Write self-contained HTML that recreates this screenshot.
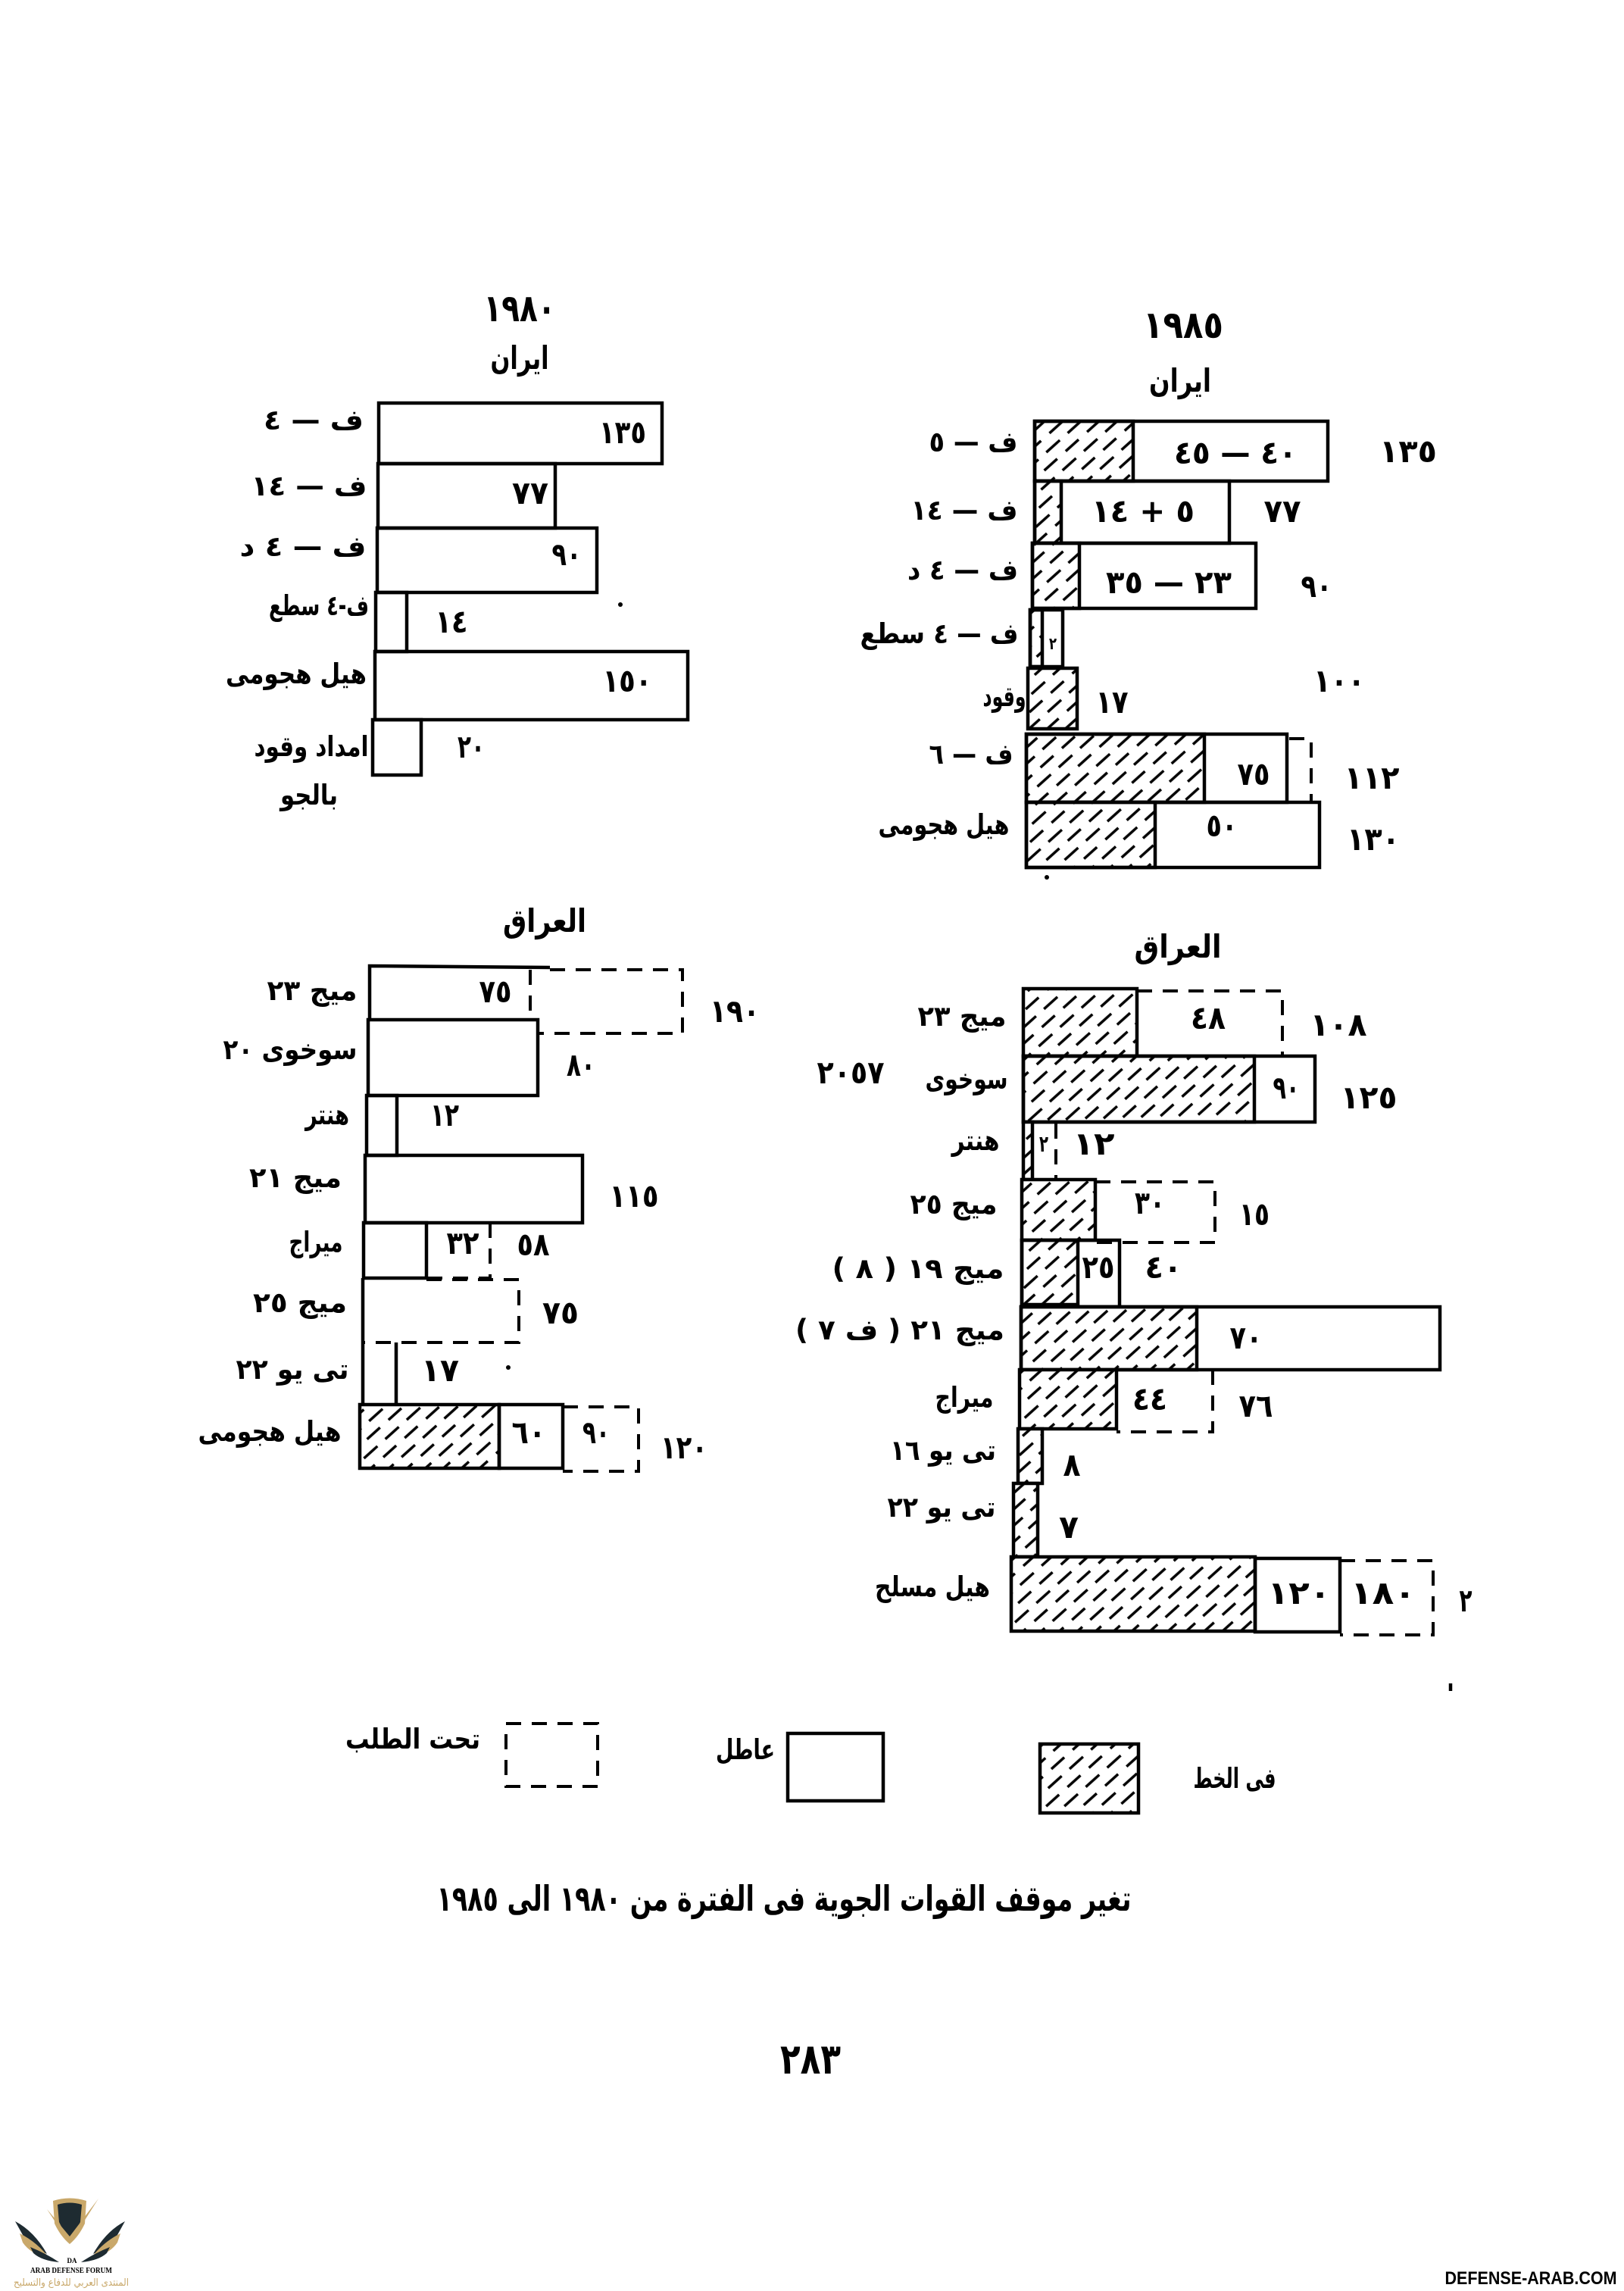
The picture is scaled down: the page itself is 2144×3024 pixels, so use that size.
<!DOCTYPE html>
<html><head><meta charset="utf-8"><style>
html,body{margin:0;padding:0;background:#fff}
svg{display:block}
text{font-family:"DejaVu Sans",sans-serif;font-weight:bold;fill:#000;text-anchor:middle;direction:rtl}
text.n{font-size:42px}
.s{fill:none;stroke:#000;stroke-width:4.5;stroke-linejoin:miter}
.d{fill:none;stroke:#000;stroke-width:4;stroke-dasharray:20 14}
.h{fill:url(#hp);stroke:#000;stroke-width:4.5}
.w{fill:#fff;stroke:#000;stroke-width:4.5}
</style></head><body>
<svg width="2144" height="3024" viewBox="0 0 2144 3024" xmlns="http://www.w3.org/2000/svg">
<defs>
<pattern id="hp" width="38" height="32" patternUnits="userSpaceOnUse" patternTransform="rotate(-42)">
<rect width="38" height="32" fill="#fff"/>
<line x1="1" y1="8" x2="24" y2="8" stroke="#000" stroke-width="3.4"/>
<line x1="19" y1="24" x2="38" y2="24" stroke="#000" stroke-width="3.4"/>
<line x1="0" y1="24" x2="5" y2="24" stroke="#000" stroke-width="3.4"/>
</pattern>
</defs>
<rect width="2144" height="3024" fill="#fff"/>

<!-- ===== IRAN 1980 ===== -->
<text x="686" y="424" font-size="50" textLength="95" lengthAdjust="spacingAndGlyphs">١٩٨٠</text>
<text x="686" y="487" font-size="42" textLength="77" lengthAdjust="spacingAndGlyphs">ايران</text>
<rect class="s" x="500" y="532" width="374" height="80"/>
<rect class="s" x="499" y="612" width="234" height="85"/>
<rect class="s" x="498" y="697" width="290" height="85"/>
<rect class="s" x="496" y="782" width="41" height="78"/>
<rect class="s" x="495" y="860" width="413" height="90"/>
<rect class="s" x="492" y="950" width="64" height="73"/>
<g font-size="37">
<text x="414" y="567" textLength="132" lengthAdjust="spacingAndGlyphs">ف — ٤</text>
<text class="n" x="822" y="585" textLength="62" lengthAdjust="spacingAndGlyphs">١٣٥</text>
<text x="408" y="654" textLength="153" lengthAdjust="spacingAndGlyphs">ف — ١٤</text>
<text class="n" x="700" y="665" textLength="48" lengthAdjust="spacingAndGlyphs">٧٧</text>
<text x="400" y="734" textLength="167" lengthAdjust="spacingAndGlyphs">ف — ٤ د</text>
<text class="n" x="748" y="746" textLength="39" lengthAdjust="spacingAndGlyphs">٩٠</text>
<text x="421" y="812" textLength="132" lengthAdjust="spacingAndGlyphs">ف-٤ سطع</text>
<text class="n" x="596" y="835" textLength="43" lengthAdjust="spacingAndGlyphs">١٤</text>
<text x="391" y="902" textLength="186" lengthAdjust="spacingAndGlyphs">هيل هجومى</text>
<text class="n" x="828" y="913" textLength="65" lengthAdjust="spacingAndGlyphs">١٥٠</text>
<text x="411" y="998" textLength="151" lengthAdjust="spacingAndGlyphs">امداد وقود</text>
<text class="n" x="622" y="1000" textLength="36" lengthAdjust="spacingAndGlyphs">٢٠</text>
<text x="408" y="1062" textLength="76" lengthAdjust="spacingAndGlyphs">بالجو</text>
</g>
<circle cx="819" cy="798" r="3"/>

<!-- ===== IRAN 1985 ===== -->
<text x="1562" y="446" font-size="50" textLength="106" lengthAdjust="spacingAndGlyphs">١٩٨٥</text>
<text x="1558" y="517" font-size="42" textLength="82" lengthAdjust="spacingAndGlyphs">ايران</text>
<rect class="h" x="1366" y="556" width="130" height="79"/>
<rect class="s" x="1366" y="556" width="387" height="79"/>
<rect class="h" x="1366" y="635" width="35" height="82"/>
<rect class="s" x="1366" y="635" width="257" height="82"/>
<rect class="h" x="1363" y="717" width="62" height="86"/>
<rect class="s" x="1363" y="717" width="295" height="86"/>
<rect class="h" x="1360" y="805" width="16" height="75"/>
<rect class="s" x="1360" y="805" width="43" height="75"/>
<rect class="h" x="1357" y="882" width="65" height="80"/>
<rect class="h" x="1355" y="969" width="235" height="90"/>
<rect class="s" x="1355" y="969" width="344" height="90"/>
<path class="d" d="M1702,975 H1731 V1059"/>
<rect class="h" x="1355" y="1059" width="170" height="86"/>
<rect class="s" x="1355" y="1059" width="387" height="86"/>
<g font-size="37">
<text x="1285" y="596" textLength="117" lengthAdjust="spacingAndGlyphs">ف — ٥</text>
<text class="n" x="1631" y="612" textLength="162" lengthAdjust="spacingAndGlyphs">٤٠ — ٤٥</text>
<text class="n" x="1859" y="610" textLength="76" lengthAdjust="spacingAndGlyphs">١٣٥</text>
<text x="1273" y="686" textLength="141" lengthAdjust="spacingAndGlyphs">ف — ١٤</text>
<text class="n" x="1509" y="689" textLength="136" lengthAdjust="spacingAndGlyphs">٥ + ١٤</text>
<text class="n" x="1693" y="689" textLength="49" lengthAdjust="spacingAndGlyphs">٧٧</text>
<text x="1271" y="765" textLength="146" lengthAdjust="spacingAndGlyphs">ف — ٤ د</text>
<text class="n" x="1543" y="783" textLength="166" lengthAdjust="spacingAndGlyphs">٢٣ — ٣٥</text>
<text class="n" x="1738" y="788" textLength="41" lengthAdjust="spacingAndGlyphs">٩٠</text>
<text x="1240" y="849" textLength="209" lengthAdjust="spacingAndGlyphs">ف — ٤ سطع</text>
<text x="1390" y="857" font-size="22" textLength="10" lengthAdjust="spacingAndGlyphs">٢</text>
<text x="1326" y="932" textLength="57" lengthAdjust="spacingAndGlyphs">وقود</text>
<text class="n" x="1468" y="941" textLength="43" lengthAdjust="spacingAndGlyphs">١٧</text>
<text class="n" x="1768" y="913" textLength="68" lengthAdjust="spacingAndGlyphs">١٠٠</text>
<text x="1282" y="1008" textLength="111" lengthAdjust="spacingAndGlyphs">ف — ٦</text>
<text class="n" x="1655" y="1036" textLength="43" lengthAdjust="spacingAndGlyphs">٧٥</text>
<text class="n" x="1811" y="1041" textLength="73" lengthAdjust="spacingAndGlyphs">١١٢</text>
<text x="1246" y="1101" textLength="173" lengthAdjust="spacingAndGlyphs">هيل هجومى</text>
<text class="n" x="1613" y="1104" textLength="41" lengthAdjust="spacingAndGlyphs">٥٠</text>
<text class="n" x="1813" y="1122" textLength="70" lengthAdjust="spacingAndGlyphs">١٣٠</text>
</g>
<circle cx="1382" cy="1158" r="3"/>

<!-- ===== IRAQ 1980 ===== -->
<text x="719" y="1230" font-size="42" textLength="110" lengthAdjust="spacingAndGlyphs">العراق</text>
<path class="s" d="M726,1277 L488,1275 L488,1346"/>
<path class="d" d="M700,1280 V1346"/>
<path class="d" d="M726,1280 H901 V1364 H712"/>
<rect class="s" x="486" y="1346" width="224" height="100"/>
<rect class="s" x="484" y="1446" width="40" height="79"/>
<rect class="s" x="482" y="1525" width="287" height="89"/>
<rect class="s" x="480" y="1614" width="83" height="73"/>
<path class="d" d="M647,1614 V1687 H563"/>
<path class="d" d="M563,1689 H685 V1772 H477"/>
<path class="s" d="M479,1687 V1854"/>
<path class="s" d="M523,1772 V1854"/>
<rect class="h" x="475" y="1854" width="184" height="84"/>
<rect class="s" x="659" y="1854" width="84" height="84"/>
<path class="d" d="M743,1857 H843 V1942 H743"/>
<g font-size="37">
<text x="412" y="1320" textLength="119" lengthAdjust="spacingAndGlyphs">ميج ٢٣</text>
<text class="n" x="654" y="1323" textLength="43" lengthAdjust="spacingAndGlyphs">٧٥</text>
<text class="n" x="970" y="1349" textLength="66" lengthAdjust="spacingAndGlyphs">١٩٠</text>
<text x="383" y="1398" textLength="177" lengthAdjust="spacingAndGlyphs">سوخوى ٢٠</text>
<text class="n" x="767" y="1420" textLength="38" lengthAdjust="spacingAndGlyphs">٨٠</text>
<text x="432" y="1484" textLength="58" lengthAdjust="spacingAndGlyphs">هنتر</text>
<text class="n" x="587" y="1486" textLength="38" lengthAdjust="spacingAndGlyphs">١٢</text>
<text x="390" y="1567" textLength="122" lengthAdjust="spacingAndGlyphs">ميج ٢١</text>
<text class="n" x="837" y="1593" textLength="65" lengthAdjust="spacingAndGlyphs">١١٥</text>
<text x="417" y="1652" textLength="71" lengthAdjust="spacingAndGlyphs">ميراج</text>
<text class="n" x="611" y="1655" textLength="43" lengthAdjust="spacingAndGlyphs">٣٢</text>
<text class="n" x="704" y="1657" textLength="43" lengthAdjust="spacingAndGlyphs">٥٨</text>
<text x="396" y="1732" textLength="124" lengthAdjust="spacingAndGlyphs">ميج ٢٥</text>
<text class="n" x="740" y="1747" textLength="48" lengthAdjust="spacingAndGlyphs">٧٥</text>
<text x="386" y="1820" textLength="149" lengthAdjust="spacingAndGlyphs">تى يو ٢٢</text>
<text class="n" x="581" y="1823" textLength="50" lengthAdjust="spacingAndGlyphs">١٧</text>
<text x="356" y="1902" textLength="189" lengthAdjust="spacingAndGlyphs">هيل هجومى</text>
<text class="n" x="698" y="1905" textLength="45" lengthAdjust="spacingAndGlyphs">٦٠</text>
<text class="n" x="787" y="1905" textLength="36" lengthAdjust="spacingAndGlyphs">٩٠</text>
<text class="n" x="903" y="1925" textLength="62" lengthAdjust="spacingAndGlyphs">١٢٠</text>
</g>
<circle cx="671" cy="1805" r="3"/>

<!-- ===== IRAQ 1985 ===== -->
<text x="1555" y="1264" font-size="42" textLength="115" lengthAdjust="spacingAndGlyphs">العراق</text>
<rect class="h" x="1351" y="1305" width="150" height="89"/>
<path class="d" d="M1501,1308 H1693 V1396"/>
<rect class="h" x="1351" y="1394" width="305" height="87"/>
<rect class="s" x="1351" y="1394" width="385" height="87"/>
<rect class="h" x="1351" y="1481" width="12" height="76"/>
<path class="d" d="M1394,1483 V1555"/>
<rect class="h" x="1349" y="1557" width="97" height="80"/>
<path class="d" d="M1446,1560 H1604 V1640 H1446"/>
<rect class="h" x="1349" y="1637" width="74" height="85"/>
<rect class="s" x="1349" y="1637" width="129" height="88"/>
<rect class="h" x="1348" y="1725" width="232" height="83"/>
<rect class="s" x="1348" y="1725" width="553" height="83"/>
<rect class="h" x="1346" y="1808" width="128" height="78"/>
<path class="d" d="M1601,1808 V1890 H1474"/>
<rect class="h" x="1344" y="1886" width="32" height="72"/>
<rect class="h" x="1338" y="1958" width="32" height="97"/>
<rect class="h" x="1335" y="2055" width="322" height="98"/>
<rect class="s" x="1657" y="2057" width="112" height="97"/>
<path class="d" d="M1769,2060 H1892 V2158 H1769"/>
<path class="s" d="M1915,2222 V2232"/>
<g font-size="37">
<text x="1270" y="1354" textLength="117" lengthAdjust="spacingAndGlyphs">ميج ٢٣</text>
<text class="n" x="1595" y="1358" textLength="46" lengthAdjust="spacingAndGlyphs">٤٨</text>
<text class="n" x="1767" y="1367" textLength="75" lengthAdjust="spacingAndGlyphs">١٠٨</text>
<text class="n" x="1123" y="1430" textLength="89" lengthAdjust="spacingAndGlyphs">٢٠٥٧</text>
<text x="1276" y="1437" textLength="109" lengthAdjust="spacingAndGlyphs">سوخوى</text>
<text class="n" x="1698" y="1450" textLength="35" lengthAdjust="spacingAndGlyphs">٩٠</text>
<text class="n" x="1807" y="1463" textLength="75" lengthAdjust="spacingAndGlyphs">١٢٥</text>
<text x="1288" y="1518" textLength="63" lengthAdjust="spacingAndGlyphs">هنتر</text>
<text x="1378" y="1520" font-size="30" textLength="12" lengthAdjust="spacingAndGlyphs">٢</text>
<text class="n" x="1444" y="1524" textLength="55" lengthAdjust="spacingAndGlyphs">١٢</text>
<text x="1259" y="1602" textLength="115" lengthAdjust="spacingAndGlyphs">ميج ٢٥</text>
<text class="n" x="1518" y="1602" textLength="40" lengthAdjust="spacingAndGlyphs">٣٠</text>
<text class="n" x="1656" y="1617" textLength="40" lengthAdjust="spacingAndGlyphs">١٥</text>
<text x="1212" y="1687" textLength="227" lengthAdjust="spacingAndGlyphs">ميج ١٩ ( ٨ )</text>
<text class="n" x="1450" y="1687" textLength="43" lengthAdjust="spacingAndGlyphs">٢٥</text>
<text class="n" x="1536" y="1687" textLength="49" lengthAdjust="spacingAndGlyphs">٤٠</text>
<text x="1188" y="1768" textLength="276" lengthAdjust="spacingAndGlyphs">ميج ٢١ ( ف ٧ )</text>
<text class="n" x="1645" y="1780" textLength="43" lengthAdjust="spacingAndGlyphs">٧٠</text>
<text x="1273" y="1857" textLength="77" lengthAdjust="spacingAndGlyphs">ميراج</text>
<text class="n" x="1518" y="1861" textLength="46" lengthAdjust="spacingAndGlyphs">٤٤</text>
<text class="n" x="1658" y="1870" textLength="45" lengthAdjust="spacingAndGlyphs">٧٦</text>
<text x="1245" y="1927" textLength="140" lengthAdjust="spacingAndGlyphs">تى يو ١٦</text>
<text class="n" x="1415" y="1948" textLength="23" lengthAdjust="spacingAndGlyphs">٨</text>
<text x="1243" y="2002" textLength="143" lengthAdjust="spacingAndGlyphs">تى يو ٢٢</text>
<text class="n" x="1411" y="2030" textLength="26" lengthAdjust="spacingAndGlyphs">٧</text>
<text x="1231" y="2107" textLength="152" lengthAdjust="spacingAndGlyphs">هيل مسلح</text>
<text class="n" x="1715" y="2117" textLength="83" lengthAdjust="spacingAndGlyphs">١٢٠</text>
<text class="n" x="1826" y="2117" textLength="86" lengthAdjust="spacingAndGlyphs">١٨٠</text>
<text class="n" x="1935" y="2127" textLength="17" lengthAdjust="spacingAndGlyphs">٢</text>
</g>

<!-- ===== LEGEND ===== -->
<rect class="d" x="668" y="2275" width="121" height="83"/>
<rect class="s" x="1040" y="2288" width="126" height="89"/>
<rect class="h" x="1373" y="2302" width="130" height="91"/>
<g font-size="37">
<text x="545" y="2308" textLength="178" lengthAdjust="spacingAndGlyphs">تحت الطلب</text>
<text x="984" y="2322" textLength="78" lengthAdjust="spacingAndGlyphs">عاطل</text>
<text x="1630" y="2360" textLength="109" lengthAdjust="spacingAndGlyphs">فى الخط</text>
</g>

<!-- ===== CAPTION ===== -->
<text x="1035" y="2522" font-size="46" textLength="917" lengthAdjust="spacingAndGlyphs">تغير موقف القوات الجوية فى الفترة من ١٩٨٠ الى ١٩٨٥</text>

<!-- ===== PAGE NUMBER ===== -->
<text x="1070" y="2737" font-size="56" textLength="80" lengthAdjust="spacingAndGlyphs">٢٨٣</text>

<!-- ===== FOOTER LOGO ===== -->
<g>
<path d="M20,2932 Q45,2945 62,2975 Q40,2965 30,2950 Z" fill="#1e2b31"/>
<path d="M26,2948 Q50,2960 66,2982 Q40,2975 30,2960 Z" fill="#c9a86a"/>
<path d="M40,2966 Q62,2975 78,2986 Q55,2984 44,2974 Z" fill="#1e2b31"/>
<path d="M165,2932 Q140,2945 123,2975 Q145,2965 155,2950 Z" fill="#1e2b31"/>
<path d="M159,2948 Q135,2960 119,2982 Q145,2975 155,2960 Z" fill="#c9a86a"/>
<path d="M145,2966 Q123,2975 107,2986 Q130,2984 141,2974 Z" fill="#1e2b31"/>
<path d="M70,2905 Q92,2898 114,2905 L112,2935 Q104,2952 92,2962 Q80,2952 72,2935 Z" fill="#c9a86a"/>
<path d="M76,2910 Q92,2905 108,2910 L106,2933 Q100,2946 92,2954 Q84,2946 78,2933 Z" fill="#1e2b31"/>
<path d="M62,2916 L92,2962 L130,2902 L92,2952 Z" fill="#c9a86a"/>
<text x="95" y="2987" style="direction:ltr;font-family:'Liberation Serif',serif;font-size:9px" fill="#1e2b31">DA</text>
<text x="94" y="3000" style="direction:ltr;font-family:'Liberation Serif',serif;font-size:10px" textLength="108" lengthAdjust="spacingAndGlyphs" fill="#1e2b31">ARAB DEFENSE FORUM</text>
<text x="94" y="3017" style="font-size:13px;font-weight:normal;fill:#c9a86a" textLength="152" lengthAdjust="spacingAndGlyphs">المنتدى العربي للدفاع والتسليح</text>
</g>

<!-- ===== WATERMARK ===== -->
<text x="2021" y="3015" style="direction:ltr;font-family:'Liberation Sans',sans-serif;font-size:24px" textLength="227" lengthAdjust="spacingAndGlyphs">DEFENSE-ARAB.COM</text>
</svg>
</body></html>
